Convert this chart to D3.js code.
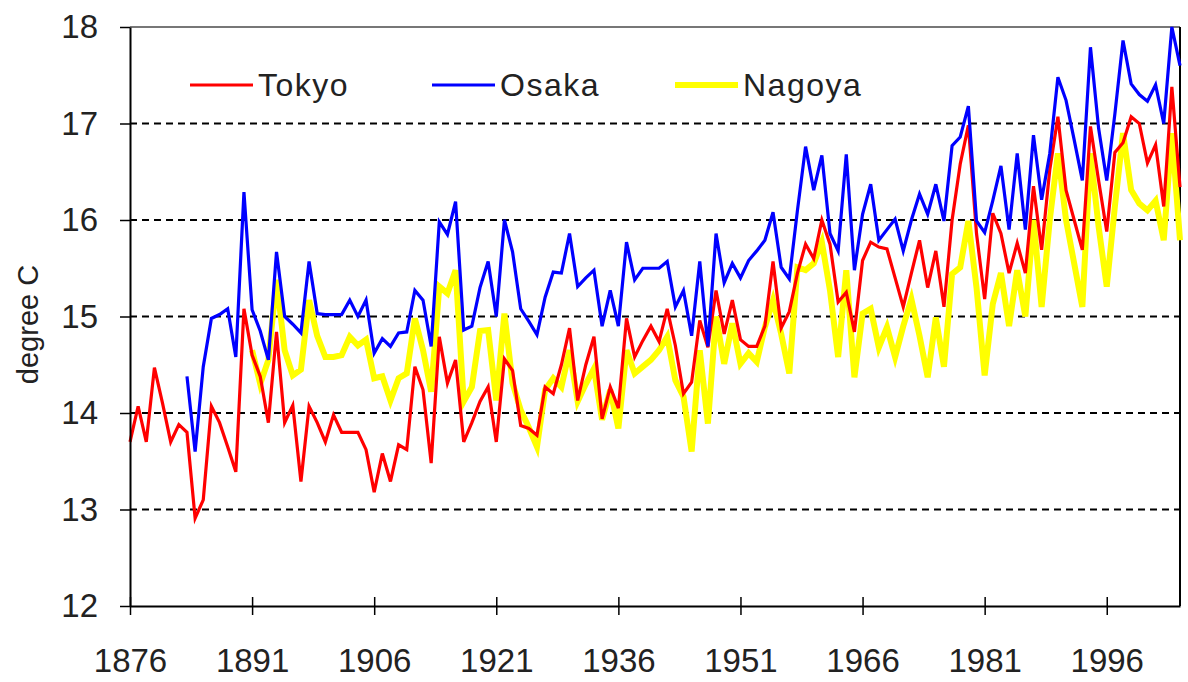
<!DOCTYPE html>
<html>
<head>
<meta charset="utf-8">
<script src="https://cdn.jsdelivr.net/npm/d3@7"></script>
<style>
  body { margin: 0; background: #fff; }
  svg text { font-family: "Liberation Sans", Arial, sans-serif; fill: #222; }
</style>
</head>
<body>
<svg id="chart"></svg>
<script>
// Annual mean temperature (degree C), one value per year 1876-2005
const firstYear = 1876;
const lastYear = 2005;

const tokyo = [
  13.70, 14.07, 13.70, 14.47, 14.10, 13.70, 13.88, 13.80, 12.91, 13.10,
  14.07, 13.90, 13.65, 13.39, 15.08, 14.60, 14.38, 13.90, 14.84, 13.90,
  14.08, 13.29, 14.07, 13.90, 13.70, 13.98, 13.80, 13.80, 13.80, 13.62,
  13.18, 13.58, 13.29, 13.67, 13.62, 14.48, 14.24, 13.48, 14.79, 14.31,
  14.55, 13.70, 13.90, 14.12, 14.27, 13.70, 14.56, 14.44, 13.87, 13.84,
  13.77, 14.27, 14.20, 14.50, 14.88, 14.13, 14.50, 14.79, 13.94, 14.27,
  14.05, 14.98, 14.58, 14.75, 14.90, 14.74, 15.08, 14.70, 14.20, 14.32,
  14.96, 14.68, 15.27, 14.82, 15.17, 14.76, 14.69, 14.69, 14.90, 15.57,
  14.88, 15.05, 15.45, 15.75, 15.60, 16.00, 15.75, 15.15, 15.25, 14.84,
  15.58, 15.77, 15.72, 15.70, 15.40, 15.10, 15.45, 15.79, 15.30, 15.68,
  15.10, 16.00, 16.58, 16.98, 15.86, 15.18, 16.07, 15.86, 15.45, 15.76,
  15.45, 16.35, 15.69, 16.52, 17.07, 16.31, 16.00, 15.69, 16.97, 16.41,
  15.88, 16.70, 16.80, 17.07, 17.00, 16.59, 16.78, 16.14, 17.38, 16.34
];

const osaka = [
  null, null, null, null, null, null, null, 14.38, 13.60, 14.48,
  14.98, 15.02, 15.08, 14.58, 16.29, 15.07, 14.85, 14.55, 15.67, 15.00,
  14.92, 14.83, 15.57, 15.03, 15.02, 15.02, 15.02, 15.17, 15.00, 15.17,
  14.62, 14.77, 14.69, 14.83, 14.84, 15.27, 15.17, 14.69, 15.98, 15.85,
  16.19, 14.86, 14.90, 15.30, 15.57, 15.00, 16.00, 15.67, 15.08, 14.95,
  14.81, 15.20, 15.46, 15.45, 15.86, 15.31, 15.40, 15.48, 14.90, 15.27,
  14.90, 15.77, 15.38, 15.50, 15.50, 15.50, 15.57, 15.10, 15.27, 14.80,
  15.57, 14.69, 15.86, 15.35, 15.55, 15.40, 15.58, 15.68, 15.79, 16.08,
  15.51, 15.39, 16.10, 16.76, 16.31, 16.67, 15.86, 15.68, 16.68, 15.48,
  16.06, 16.37, 15.79, 15.90, 16.01, 15.68, 16.00, 16.27, 16.06, 16.37,
  15.99, 16.77, 16.86, 17.18, 15.99, 15.87, 16.20, 16.56, 15.90, 16.69,
  15.90, 16.88, 16.21, 16.69, 17.48, 17.24, 16.83, 16.41, 17.79, 16.95,
  16.41, 17.10, 17.86, 17.41, 17.30, 17.23, 17.40, 17.00, 18.00, 17.60
];

const nagoya = [
  null, null, null, null, null, null, null, null, null, null,
  null, null, null, null, null, 14.65, 14.30, 14.55, 15.38, 14.65,
  14.39, 14.45, 15.17, 14.80, 14.58, 14.58, 14.60, 14.79, 14.70, 14.76,
  14.36, 14.38, 14.13, 14.36, 14.41, 14.98, 14.65, 14.22, 15.31, 15.24,
  15.48, 14.12, 14.27, 14.85, 14.86, 14.13, 15.03, 14.31, 14.03, 13.85,
  13.65, 14.24, 14.36, 14.27, 14.65, 14.12, 14.30, 14.46, 13.93, 14.24,
  13.84, 14.65, 14.41, 14.48, 14.55, 14.65, 14.79, 14.34, 14.17, 13.60,
  14.65, 13.89, 15.00, 14.51, 14.93, 14.51, 14.62, 14.53, 14.89, 15.17,
  14.82, 14.41, 15.51, 15.48, 15.55, 15.77, 15.27, 14.58, 15.48, 14.37,
  15.03, 15.08, 14.68, 14.89, 14.58, 14.90, 15.18, 14.80, 14.37, 14.99,
  14.48, 15.44, 15.51, 15.99, 15.30, 14.39, 15.13, 15.45, 14.90, 15.48,
  15.00, 16.00, 15.10, 16.00, 16.69, 16.00, 15.55, 15.10, 16.69, 15.93,
  15.31, 16.14, 16.90, 16.31, 16.17, 16.10, 16.20, 15.79, 16.90, 15.79
];

const yearTicks = [1876, 1891, 1906, 1921, 1936, 1951, 1966, 1981, 1996];
const tempTicks = [12, 13, 14, 15, 16, 17, 18];
const gridTicks = [13, 14, 15, 16, 17];

// series in drawing order (yellow underneath, blue on top)
const series = [
  { name: "Nagoya", values: nagoya, color: "#ffff00", width: 6 },
  { name: "Tokyo", values: tokyo, color: "#ff0000", width: 3.2 },
  { name: "Osaka", values: osaka, color: "#0000ff", width: 3.2 }
];

const width = 1188;
const height = 682;
const margin = { top: 27, right: 8, bottom: 76, left: 130 };

const svg = d3.select("#chart")
  .attr("width", width)
  .attr("height", height);

const x = d3.scaleLinear()
  .domain([firstYear, lastYear])
  .range([margin.left, width - margin.right]);

const y = d3.scaleLinear()
  .domain([12, 18])
  .range([height - margin.bottom, margin.top]);

const years = d3.range(firstYear, lastYear + 1);

// dashed grid lines
svg.append("g")
  .selectAll("line")
  .data(gridTicks)
  .join("line")
  .attr("x1", x(firstYear))
  .attr("x2", x(lastYear))
  .attr("y1", d => y(d))
  .attr("y2", d => y(d))
  .attr("stroke", "#000")
  .attr("stroke-width", 2)
  .attr("stroke-dasharray", "7,5");

// plot frame: top and right
svg.append("line")
  .attr("x1", x(firstYear)).attr("x2", x(lastYear))
  .attr("y1", y(18)).attr("y2", y(18))
  .attr("stroke", "#777").attr("stroke-width", 2);
svg.append("line")
  .attr("x1", x(lastYear)).attr("x2", x(lastYear))
  .attr("y1", y(18)).attr("y2", y(12))
  .attr("stroke", "#000").attr("stroke-width", 2);

// lines
const line = d3.line()
  .defined(d => d.v !== null)
  .x(d => x(d.year))
  .y(d => y(d.v));

svg.append("g")
  .selectAll("path")
  .data(series)
  .join("path")
  .attr("fill", "none")
  .attr("stroke", d => d.color)
  .attr("stroke-width", d => d.width)
  .attr("stroke-linejoin", "miter")
  .attr("d", d => line(years.map((yr, i) => ({ year: yr, v: d.values[i] }))));

// x axis, ticks cross the axis line
const xAxis = svg.append("g")
  .attr("transform", `translate(0,${y(12)})`)
  .call(d3.axisBottom(x)
    .tickValues(yearTicks)
    .tickFormat(d3.format("d"))
    .tickSizeOuter(0)
    .tickSizeInner(9)
    .tickPadding(34));
xAxis.selectAll(".tick line").attr("y1", -9).attr("stroke-width", 1.5);
xAxis.select(".domain").attr("stroke-width", 2);
xAxis.selectAll("text")
  .attr("font-size", 33)
  .attr("fill", "#222");

// y axis
const yAxis = svg.append("g")
  .attr("transform", `translate(${x(firstYear)},0)`)
  .call(d3.axisLeft(y)
    .tickValues(tempTicks)
    .tickFormat(d3.format("d"))
    .tickSizeOuter(0)
    .tickSizeInner(10)
    .tickPadding(22));
yAxis.selectAll(".tick line").attr("stroke-width", 1.5);
yAxis.select(".domain").attr("stroke-width", 2);
yAxis.selectAll("text")
  .attr("font-size", 33)
  .attr("fill", "#222");

// y axis title
svg.append("text")
  .attr("transform", `translate(38,${(y(12) + y(18)) / 2 + 8}) rotate(-90)`)
  .attr("text-anchor", "middle")
  .attr("font-size", 29)
  .text("degree C");

// legend
const legendItems = [
  { name: "Tokyo", color: "#ff0000", width: 3.2, x0: 190 },
  { name: "Osaka", color: "#0000ff", width: 3.2, x0: 432 },
  { name: "Nagoya", color: "#ffff00", width: 6, x0: 675 }
];
const legend = svg.append("g")
  .selectAll("g")
  .data(legendItems)
  .join("g")
  .attr("transform", d => `translate(${d.x0},85)`);
legend.append("line")
  .attr("x1", 0).attr("x2", 63)
  .attr("stroke", d => d.color)
  .attr("stroke-width", d => d.width);
legend.append("text")
  .attr("x", 68)
  .attr("y", 11)
  .attr("font-size", 32)
  .attr("letter-spacing", 1.5)
  .text(d => d.name);
</script>
</body>
</html>
